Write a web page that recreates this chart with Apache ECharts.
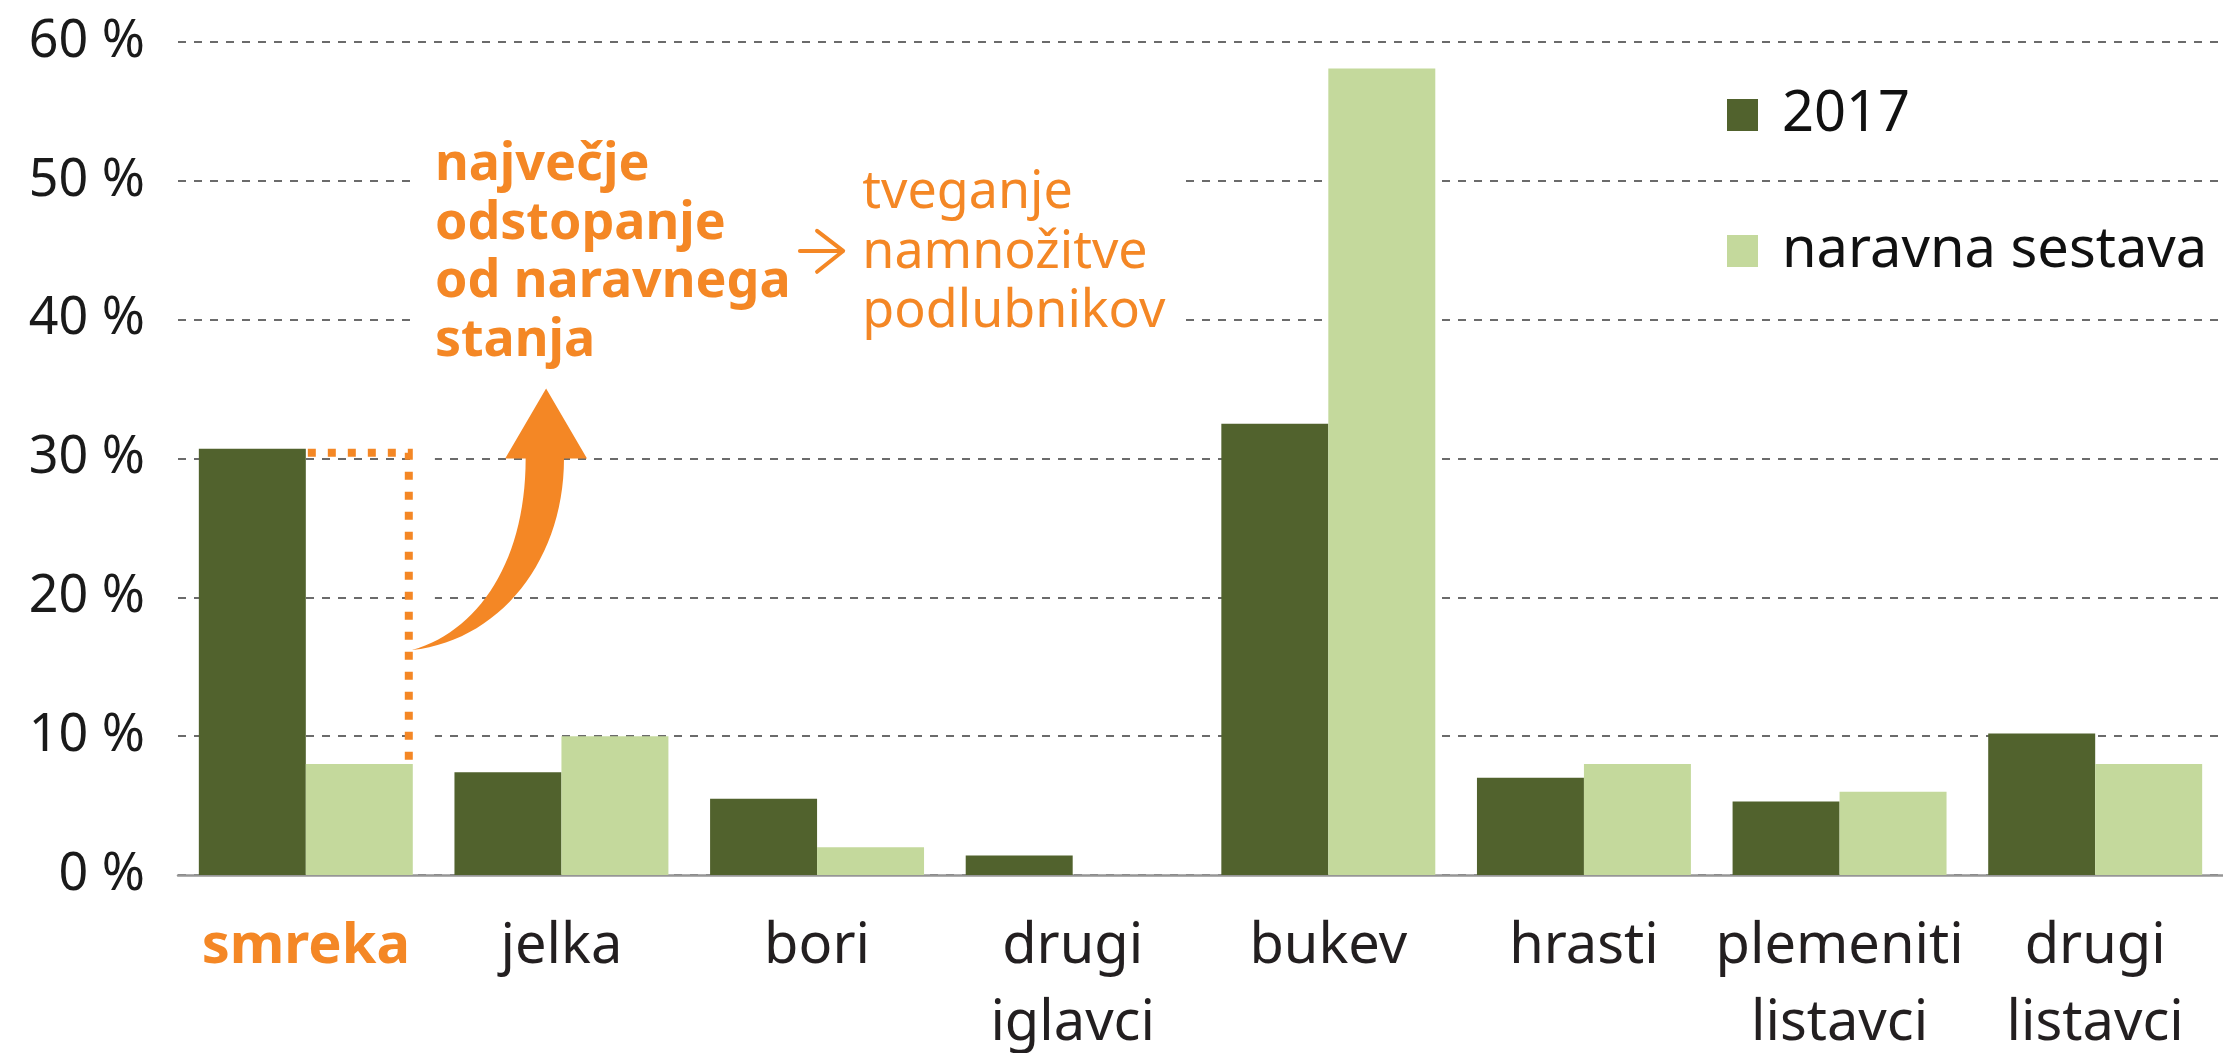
<!DOCTYPE html>
<html>
<head>
<meta charset="utf-8">
<script src="https://cdn.jsdelivr.net/npm/echarts@6/dist/echarts.min.js"></script>
<style>
  html, body { margin: 0; padding: 0; background: #fff; }
  #chart { width: 2223px; height: 1053px; }
</style>
</head>
<body>
<div id="chart"></div>
<script>
// podatki
var categories = ['smreka', 'jelka', 'bori', 'drugi\niglavci', 'bukev', 'hrasti', 'plemeniti\nlistavci', 'drugi\nlistavci']
var seriesNames = ['2017', 'naravna sestava']
var values2017 = [30.7, 7.4, 5.5, 1.4, 32.5, 7.0, 5.3, 10.2]
var valuesNatural = [8.0, 10.0, 2.0, 0, 58.1, 8.0, 6.0, 8.0]
var yTicks = [0, 10, 20, 30, 40, 50, 60]

// opombe
var noteMain = 'največje\nodstopanje\nod naravnega\nstanja'
var noteRisk = 'tveganje\nnamnožitve\npodlubnikov'

var FONT = '"Noto Sans", sans-serif'
var DARK = '#51622d'
var LIGHT = '#c4d99c'
var ORANGE = '#f48725'
var GAP = 0.163

var chart = echarts.init(document.getElementById('chart'))

var option = {
  animation: false,
  backgroundColor: '#fff',
  textStyle: { fontFamily: FONT },
  grid: { left: 178, right: 0, top: 42, bottom: 178, containLabel: false, outerBoundsMode: 'none' },
  legend: {
    data: seriesNames,
    orient: 'vertical',
    left: 1727,
    top: 87,
    padding: 0,
    icon: 'rect',
    itemWidth: 31,
    itemHeight: 32,
    itemGap: 80,
    textStyle: { fontSize: 56, lineHeight: 56, color: '#111', fontFamily: FONT, padding: [0, 0, 0, 19] }
  },
  xAxis: {
    type: 'category',
    data: categories,
    axisLine: { lineStyle: { color: '#969696', width: 2.5 } },
    axisTick: { show: false },
    axisLabel: {
      interval: 0,
      margin: 34,
      fontSize: 56,
      lineHeight: 77,
      color: '#231f20',
      fontFamily: FONT,
      formatter: function (v, i) {
        return i === 0 ? '{hl|' + v + '}' : v
      },
      rich: {
        hl: { color: ORANGE, fontWeight: 'bold', fontSize: 56, lineHeight: 77, fontFamily: FONT }
      }
    }
  },
  yAxis: {
    type: 'value',
    min: yTicks[0],
    max: yTicks[yTicks.length - 1],
    interval: yTicks[1] - yTicks[0],
    axisLine: { show: false },
    axisTick: { show: false },
    axisLabel: { formatter: '{value} %', fontSize: 52, color: '#1a1a1a', margin: 33, fontFamily: FONT },
    splitLine: { lineStyle: { color: '#6b6b6b', width: 2, type: [8, 8] } }
  },
  series: [
    {
      name: seriesNames[0],
      type: 'bar',
      data: values2017,
      barGap: '0%',
      barCategoryGap: (GAP * 100) + '%',
      itemStyle: { color: DARK }
    },
    {
      name: seriesNames[1],
      type: 'bar',
      data: valuesNatural,
      itemStyle: { color: LIGHT }
    }
  ]
}
chart.setOption(option)

// pretvorba (indeks kategorije, vrednost) -> piksli
var x0 = chart.convertToPixel({ xAxisIndex: 0 }, 0)
var band = chart.convertToPixel({ xAxisIndex: 0 }, 1) - x0
function pt (ci, v) {
  return [x0 + ci * band, chart.convertToPixel({ yAxisIndex: 0 }, v)]
}
function bez (p, t) {
  var u = 1 - t
  return [
    u * u * u * p[0][0] + 3 * u * u * t * p[1][0] + 3 * u * t * t * p[2][0] + t * t * t * p[3][0],
    u * u * u * p[0][1] + 3 * u * u * t * p[1][1] + 3 * u * t * t * p[2][1] + t * t * t * p[3][1]
  ]
}

// puščica
var arrowLeft = [[0.415, 16.2], [0.68, 17.6], [0.86, 22.7], [0.86, 30]].map(function (d) { return pt(d[0], d[1]) })
var arrowRight = [[0.415, 16.2], [0.76, 16.9], [1.01, 22.7], [1.01, 30]].map(function (d) { return pt(d[0], d[1]) })
var arrowHead = [[0.78, 30], [0.94, 35.05], [1.10, 30]].map(function (d) { return pt(d[0], d[1]) })
var arrowPts = []
for (var i = 0; i <= 30; i++) arrowPts.push(bez(arrowLeft, i / 30))
arrowPts = arrowPts.concat(arrowHead)
for (var j = 30; j >= 0; j--) arrowPts.push(bez(arrowRight, j / 30))

// pikčasta črta
var barW = band * (1 - GAP) / 2
var top0 = pt(0, values2017[0])
var xR = top0[0] + barW - 4
var yT = top0[1] + 4
var yB = pt(0, valuesNatural[0])[1]

var m1a = pt(0.418, 55); var m1b = pt(3.44, 35)
var m2a = pt(0.418, 31); var m2b = pt(0.505, 9)
var tMain = pt(0.505, 53.2)
var tRisk = pt(2.177, 51.25)
var s1 = pt(1.933, 44.95); var s2 = pt(2.098, 44.95)
var h1 = pt(2.0, 46.4); var h2 = pt(2.102, 44.95); var h3 = pt(2.0, 43.45)

chart.setOption({
  graphic: [
    { type: 'rect', z: 1, shape: { x: m1a[0], y: m1a[1], width: m1b[0] - m1a[0], height: m1b[1] - m1a[1] }, style: { fill: '#fff' } },
    { type: 'rect', z: 1, shape: { x: m2a[0], y: m2a[1], width: m2b[0] - m2a[0], height: m2b[1] - m2a[1] }, style: { fill: '#fff' } },
    { type: 'polyline', z: 5, shape: { points: [[top0[0] + 2, yT], [xR, yT], [xR, yB]] }, style: { stroke: ORANGE, lineWidth: 8, lineDash: [8, 12], fill: null } },
    { type: 'polygon', z: 10, shape: { points: arrowPts }, style: { fill: ORANGE } },
    {
      type: 'text', z: 10, x: tMain[0], y: tMain[1],
      style: { text: noteMain, fill: ORANGE, fontSize: 52, fontWeight: 'bold', fontFamily: FONT, lineHeight: 58.5, align: 'left', verticalAlign: 'top' }
    },
    {
      type: 'text', z: 10, x: tRisk[0], y: tRisk[1],
      style: { text: noteRisk, fill: ORANGE, fontSize: 52, fontFamily: FONT, lineHeight: 59.5, align: 'left', verticalAlign: 'top' }
    },
    { type: 'polyline', z: 10, shape: { points: [s1, s2] }, style: { stroke: ORANGE, lineWidth: 4, lineCap: 'round', fill: null } },
    { type: 'polyline', z: 10, shape: { points: [h1, h2, h3] }, style: { stroke: ORANGE, lineWidth: 4, lineCap: 'round', lineJoin: 'round', fill: null } }
  ]
})
</script>
</body>
</html>
